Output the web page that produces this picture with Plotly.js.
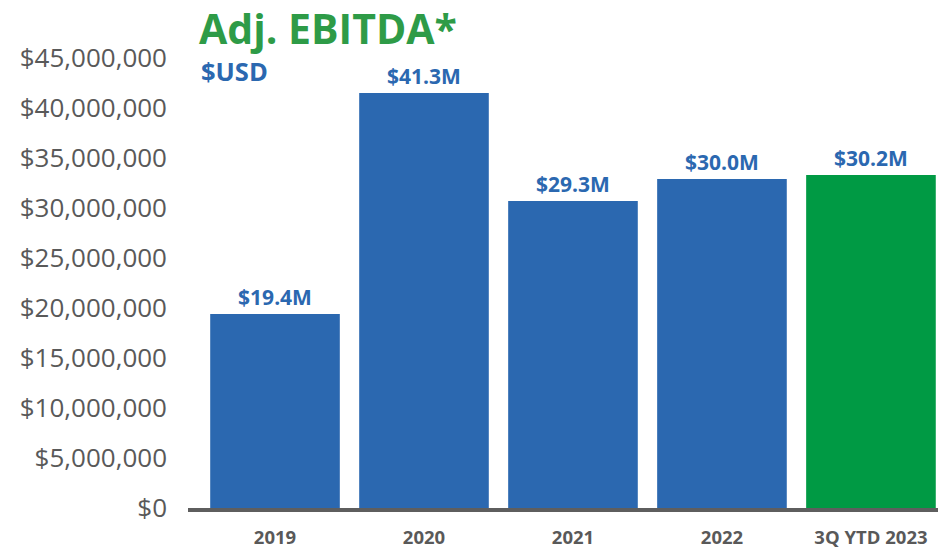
<!DOCTYPE html>
<html>
<head>
<meta charset="utf-8">
<script src="https://cdn.plot.ly/plotly-3.0.1.min.js"></script>
<style>html,body{margin:0;padding:0;background:#fff;}#chart{width:938px;height:549px;}</style>
</head>
<body>
<div id="chart"></div>
<script>
const categories = ["2019", "2020", "2021", "2022", "3Q YTD 2023"];
const barValues = [19400000, 41500000, 30700000, 32900000, 33300000];
const labels = ["$19.4M", "$41.3M", "$29.3M", "$30.0M", "$30.2M"];
const barColors = ["#2B68B0", "#2B68B0", "#2B68B0", "#2B68B0", "#009A44"];
const yTicks = [0, 5000000, 10000000, 15000000, 20000000, 25000000, 30000000, 35000000, 40000000, 45000000];
const yTickText = yTicks.map(v => "$" + v.toLocaleString("en-US"));

const trace = {
  type: "bar",
  x: categories,
  y: barValues,
  text: labels,
  textposition: "outside",
  cliponaxis: false,
  textfont: {family: "Open Sans", size: 21, color: "#2B68B0", weight: 700},
  marker: {color: barColors},
  width: 0.87,
  hoverinfo: "none"
};

const layout = {
  width: 938, height: 549,
  margin: {l: 188, r: 0, t: 58, b: 41},
  paper_bgcolor: "#fff", plot_bgcolor: "#fff",
  showlegend: false,
  font: {family: "Open Sans"},
  title: {
    text: "<b>Adj. EBITDA*</b>",
    font: {family: "Open Sans", size: 41, color: "#2E9B47"},
    xref: "container", yref: "container",
    x: 199/938, xanchor: "left",
    y: 1 - 30/549, yanchor: "middle"
  },
  annotations: [{
    text: "<b>$USD</b>",
    xref: "paper", yref: "paper",
    x: 11/750, xanchor: "left",
    y: (508-71)/450, yanchor: "middle",
    showarrow: false,
    font: {family: "Open Sans", size: 25.5, color: "#2B68B0"}
  }],
  xaxis: {
    type: "category",
    range: [-0.584, 4.45],
    showline: true, linecolor: "#5E5E5E", linewidth: 4,
    ticks: "", showgrid: false, zeroline: false,
    tickfont: {family: "Open Sans", size: 18.5, color: "#595959", weight: 700},
    ticklabelstandoff: 10
  },
  yaxis: {
    range: [0, 45000000],
    tickvals: yTicks,
    ticktext: yTickText,
    showgrid: false, zeroline: false, showline: false, ticks: "",
    tickfont: {family: "Open Sans", size: 26, color: "#595959"},
    ticklabelstandoff: 20
  }
};

Plotly.newPlot("chart", [trace], layout, {displayModeBar: false, staticPlot: true});
</script>
</body>
</html>
